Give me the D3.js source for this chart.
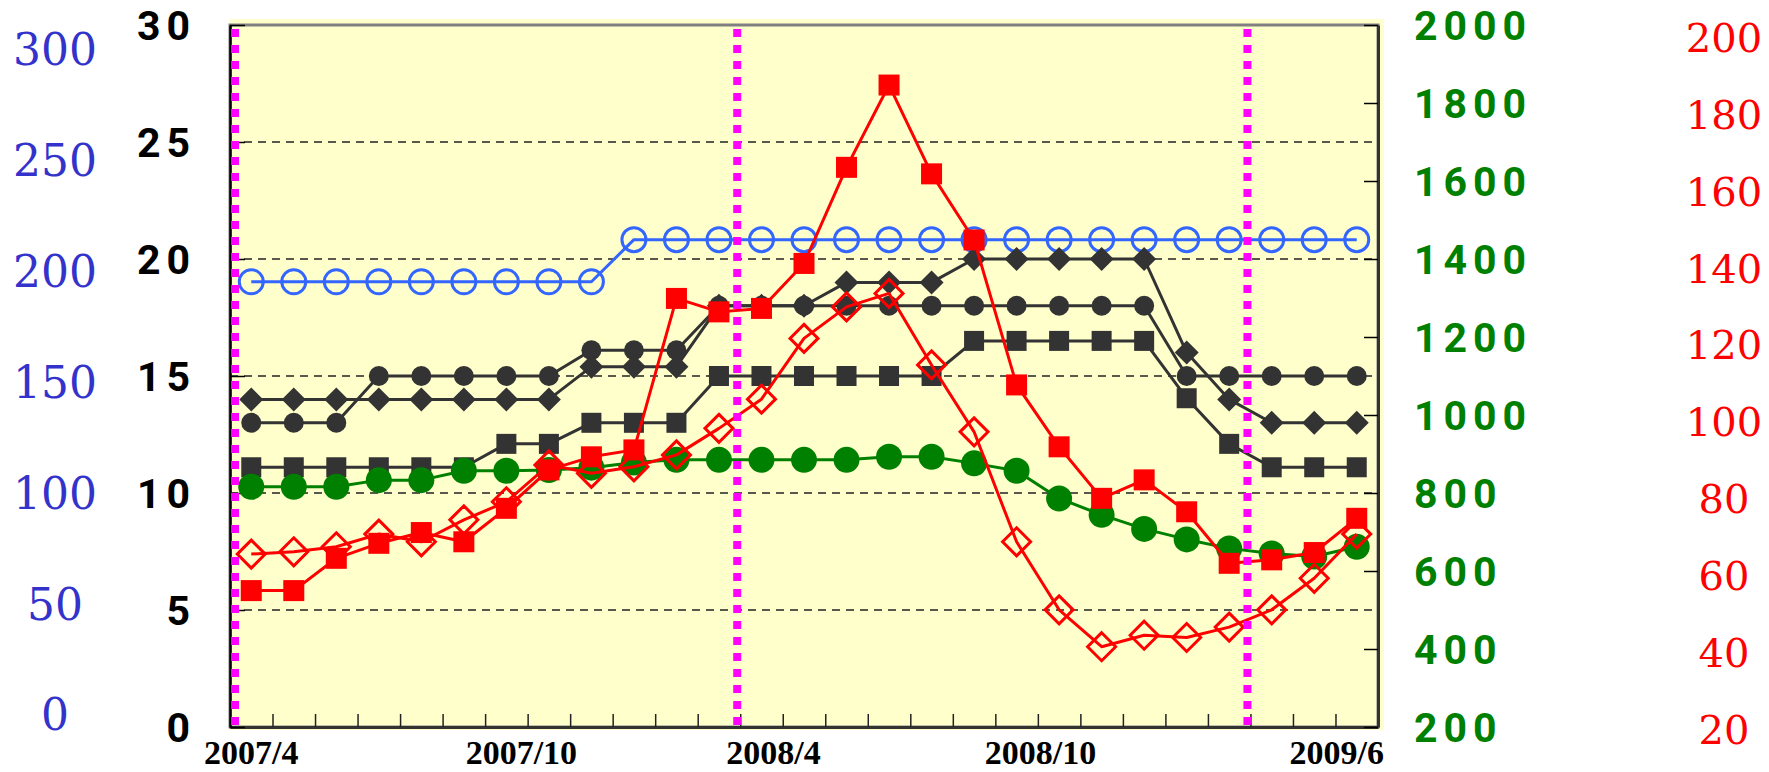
<!DOCTYPE html>
<html><head><meta charset="utf-8">
<script src="https://cdn.jsdelivr.net/npm/d3@7/dist/d3.min.js"></script>
<style>body{margin:0;background:#fff;overflow:hidden}</style>
</head><body>
<svg id="c" width="1769" height="772"></svg>
<script>
// ---------- data ----------
const months = ["2007/4","2007/5","2007/6","2007/7","2007/8","2007/9","2007/10","2007/11","2007/12",
  "2008/1","2008/2","2008/3","2008/4","2008/5","2008/6","2008/7","2008/8","2008/9","2008/10","2008/11","2008/12",
  "2009/1","2009/2","2009/3","2009/4","2009/5","2009/6"];
const xTickLabels = ["2007/4","2007/10","2008/4","2008/10","2009/6"];
const fiscalYearStarts = ["2007/4","2008/4","2009/4"];
const leftTicks = [0,5,10,15,20,25,30];
const gridTicks = [5,10,15,20,25];
const greenTicks = [200,400,600,800,1000,1200,1400,1600,1800,2000];
const redTicks = [20,40,60,80,100,120,140,160,180,200];
const blueTicks = [0,50,100,150,200,250,300];

// left axis (0-30)
const blackCircle  = [13,13,13,15,15,15,15,15,16.1,16.1,16.1,18,18,18,18,18,18,18,18,18,18,18,15,15,15,15,15];
const blackDiamond = [14,14,14,14,14,14,14,14,15.4,15.4,15.4,18,18,18,19,19,19,20,20,20,20,20,16,14,13,13,13];
const blackSquare  = [11.1,11.1,11.1,11.1,11.1,11.1,12.1,12.1,13,13,13,15,15,15,15,15,15,16.5,16.5,16.5,16.5,16.5,14.05,12.1,11.1,11.1,11.1];
// green axis (200-2000)
const greenCircle  = [816,816,816,833,833,857,857,859,865,878,885,885,885,885,885,893,893,876,857,786,744,708,681,658,645,637,662];
// red axis (20-200)
const redSquare    = [56,56,64.4,68.3,71.1,68.7,77.4,87.4,90.8,92.6,132,128.5,129.4,141.1,166.1,187.5,164.4,147.2,109.5,93.4,80,84.8,76.5,63.1,64,65.9,74.8];
const redDiamond   = [65.5,66.1,67.4,70.7,68.7,74.4,79.1,88.7,86.5,88.2,91.3,98.2,105.8,121.6,129.8,133.3,114.7,97.3,68.7,51,41.4,44.4,43.8,46.5,51,59.2,70.7];
// blue axis (0-300)
const blueCircle   = [195,195,195,195,195,195,195,195,195,214,214,214,214,214,214,214,214,214,214,214,214,214,214,214,214,214,214];

// ---------- layout ----------
const plotL = 230, plotR = 1378, plotT = 25, plotB = 727;
const labelDx = [0, 15, 12, 24, -20];

const svg = d3.select("#c");
const x = d3.scaleBand().domain(months).range([plotL, plotR]).padding(0);
const xi = d3.scaleLinear().domain([0, months.length]).range([plotL, plotR]);
const cx = m => x(m) + x.bandwidth() / 2;
const yL = d3.scaleLinear().domain([0, 30]).range([plotB, plotT]);
const yG = d3.scaleLinear().domain([200, 2000]).range([plotB, plotT]);
const yR = d3.scaleLinear().domain([20, 200]).range([729, 37]);
const yB = d3.scaleLinear().domain([0, 300]).range([714, 49]);

// plot background
svg.append("rect").attr("x", plotL).attr("y", plotT - 6)
  .attr("width", plotR - plotL + 6).attr("height", plotB - plotT + 9)
  .attr("fill", "#FFFFCC");

// gridlines
svg.append("g").selectAll("line").data(gridTicks).join("line")
  .attr("x1", plotL).attr("x2", plotR)
  .attr("y1", d => yL(d)).attr("y2", d => yL(d))
  .attr("stroke", "#222").attr("stroke-width", 1.3).attr("stroke-dasharray", "8,6");

// border
svg.append("rect").attr("x", plotL).attr("y", plotT)
  .attr("width", plotR - plotL).attr("height", plotB - plotT)
  .attr("fill", "none").attr("stroke", "#808080").attr("stroke-width", 3);

// bottom tick marks at month boundaries
const gTicks = svg.append("g").attr("transform", `translate(0,${plotB})`)
  .call(d3.axisBottom(xi).tickValues(d3.range(1, months.length)).tickSize(-13).tickSizeOuter(0).tickFormat(""));
gTicks.select(".domain").attr("stroke", "#333").attr("stroke-width", 3);
gTicks.selectAll(".tick line").attr("stroke", "#222").attr("stroke-width", 1.5);

// bottom labels
const gX = svg.append("g").attr("transform", `translate(0,${plotB})`)
  .call(d3.axisBottom(x).tickValues(xTickLabels).tickSize(0).tickPadding(0));
gX.select(".domain").remove();
gX.selectAll(".tick text")
  .attr("y", 37).attr("dy", null)
  .attr("dx", (d, i) => labelDx[i])
  .attr("font-family", "'Liberation Serif', 'Times New Roman', serif")
  .attr("font-weight", "bold").attr("font-size", 34).attr("fill", "#000");

// left axis
const gL = svg.append("g").attr("transform", `translate(${plotL},0)`)
  .call(d3.axisLeft(yL).tickValues(leftTicks).tickSize(-15).tickSizeOuter(0).tickPadding(34).tickFormat(d3.format("d")));
gL.select(".domain").attr("stroke", "#000").attr("stroke-width", 2.5);
gL.selectAll(".tick line").attr("stroke", "#000").attr("stroke-width", 1.5);
gL.selectAll(".tick text")
  .attr("dy", "0.36em")
  .attr("font-family", "Roboto, 'Noto Sans', sans-serif")
  .attr("font-weight", "bold").attr("font-size", 41).attr("letter-spacing", 6).attr("fill", "#000");

// right (green) axis
const gG = svg.append("g").attr("transform", `translate(${plotR},0)`)
  .call(d3.axisRight(yG).tickValues(greenTicks).tickSize(-14).tickSizeOuter(0).tickPadding(36).tickFormat(d3.format("d")));
gG.select(".domain").attr("stroke", "#333").attr("stroke-width", 3);
gG.selectAll(".tick line").attr("stroke", "#000").attr("stroke-width", 1.5);
gG.selectAll(".tick text")
  .attr("dy", "0.36em")
  .attr("font-family", "Roboto, 'Noto Sans', sans-serif")
  .attr("font-weight", "bold").attr("font-size", 41).attr("letter-spacing", 6).attr("fill", "#008000");

// red axis labels
const gR = svg.append("g").attr("transform", `translate(1724,0)`)
  .call(d3.axisRight(yR).tickValues(redTicks).tickSize(0).tickPadding(0).tickFormat(d3.format("d")));
gR.select(".domain").remove();
gR.selectAll(".tick text")
  .attr("x", 0).attr("dy", "0.36em").attr("text-anchor", "middle")
  .attr("font-family", "'DejaVu Serif', serif")
  .attr("font-size", 40).attr("fill", "#FF0000");

// blue axis labels
const gB = svg.append("g").attr("transform", `translate(55,0)`)
  .call(d3.axisLeft(yB).tickValues(blueTicks).tickSize(0).tickPadding(0).tickFormat(d3.format("d")));
gB.select(".domain").remove();
gB.selectAll(".tick text")
  .attr("x", 0).attr("dy", "0.36em").attr("text-anchor", "middle")
  .attr("font-family", "'DejaVu Serif', serif")
  .attr("font-size", 44).attr("fill", "#3333CC");

// ---------- series ----------
function series(values, scale, color, marker, size, filled) {
  const pts = months.map((m, i) => ({ m, v: values[i] }));
  const g = svg.append("g");
  g.append("path").datum(pts)
    .attr("fill", "none").attr("stroke", color).attr("stroke-width", 3)
    .attr("stroke-linejoin", "round")
    .attr("d", d3.line().x(d => cx(d.m)).y(d => scale(d.v)));
  const fill = filled ? color : "none";
  const sw = filled ? 0 : 3;
  if (marker === "circle") {
    g.selectAll("circle").data(pts).join("circle")
      .attr("cx", d => cx(d.m)).attr("cy", d => scale(d.v)).attr("r", size)
      .attr("fill", fill).attr("stroke", color).attr("stroke-width", sw);
  } else if (marker === "square") {
    g.selectAll("rect").data(pts).join("rect")
      .attr("x", d => cx(d.m) - size).attr("y", d => scale(d.v) - size)
      .attr("width", size * 2).attr("height", size * 2)
      .attr("fill", fill).attr("stroke", color).attr("stroke-width", sw);
  } else {
    g.selectAll("path.mk").data(pts).join("path").attr("class", "mk")
      .attr("d", d => {
        const px = cx(d.m), py = scale(d.v);
        return `M${px},${py - size}L${px + size},${py}L${px},${py + size}L${px - size},${py}Z`;
      })
      .attr("fill", fill).attr("stroke", color).attr("stroke-width", sw);
  }
}

series(blueCircle, yB, "#3366FF", "circle", 12, false);
series(blackCircle, yL, "#333333", "circle", 10, true);
series(blackDiamond, yL, "#333333", "diamond", 12, true);
series(blackSquare, yL, "#333333", "square", 10, true);
series(greenCircle, yG, "#008000", "circle", 13, true);
series(redSquare, yR, "#FF0000", "square", 10.5, true);
series(redDiamond, yR, "#FF0000", "diamond", 14, false);

// fiscal year separators
svg.append("g").selectAll("line").data(fiscalYearStarts).join("line")
  .attr("x1", d => Math.max(x(d) - 3, plotL + 5))
  .attr("x2", d => Math.max(x(d) - 3, plotL + 5))
  .attr("y1", plotT + 4).attr("y2", plotB)
  .attr("stroke", "#FF00FF").attr("stroke-width", 8).attr("stroke-dasharray", "8,8");
</script>
</body></html>
